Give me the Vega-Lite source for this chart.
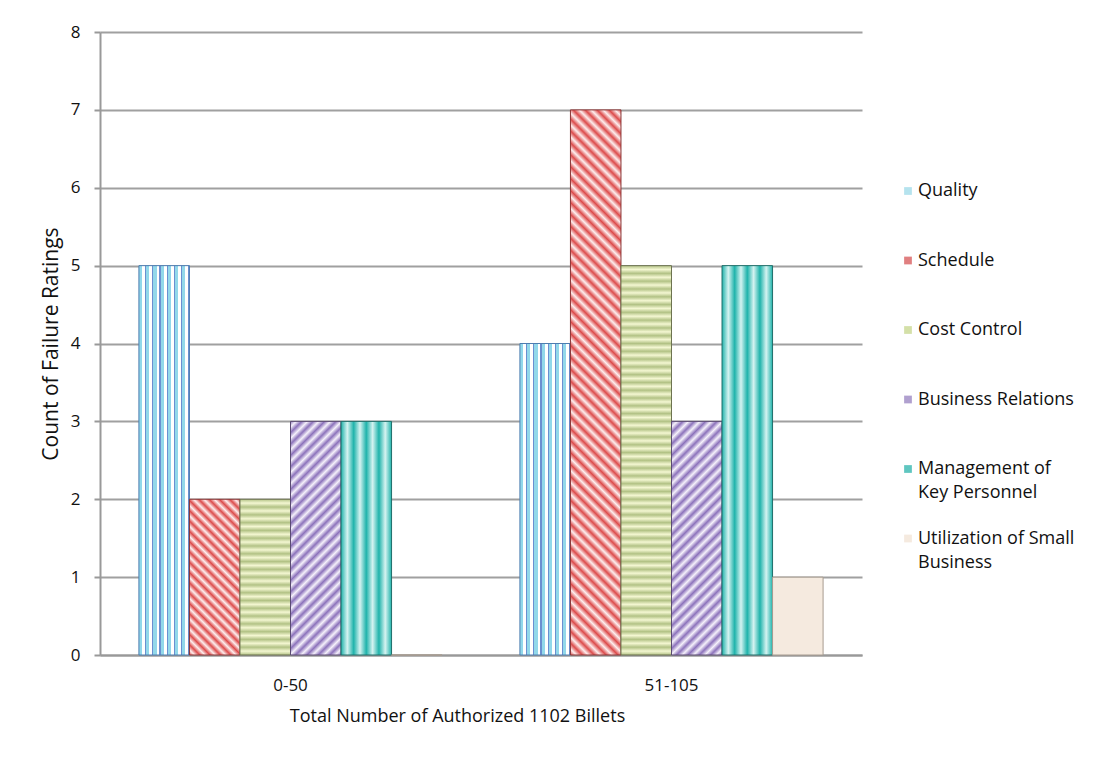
{
  "$schema": "https://vega.github.io/schema/vega-lite/v6.json",
  "autosize": "none",
  "width": 762,
  "height": 623,
  "padding": {"left": 100, "top": 32, "right": 252, "bottom": 127},
  "background": "#ffffff",
  "data": {
    "values": [
      {"Billets": "0-50", "Series": "Quality", "Count": 5},
      {"Billets": "0-50", "Series": "Schedule", "Count": 2},
      {"Billets": "0-50", "Series": "Cost Control", "Count": 2},
      {"Billets": "0-50", "Series": "Business Relations", "Count": 3},
      {"Billets": "0-50", "Series": "Management of Key Personnel", "Count": 3},
      {"Billets": "0-50", "Series": "Utilization of Small Business", "Count": 0},
      {"Billets": "51-105", "Series": "Quality", "Count": 4},
      {"Billets": "51-105", "Series": "Schedule", "Count": 7},
      {"Billets": "51-105", "Series": "Cost Control", "Count": 5},
      {"Billets": "51-105", "Series": "Business Relations", "Count": 3},
      {"Billets": "51-105", "Series": "Management of Key Personnel", "Count": 5},
      {"Billets": "51-105", "Series": "Utilization of Small Business", "Count": 1}
    ]
  },
  "mark": {"type": "bar", "strokeWidth": 1},
  "encoding": {
    "x": {
      "field": "Billets", "type": "nominal",
      "scale": {"paddingInner": 0, "paddingOuter": 0},
      "axis": {"title": "Total Number of Authorized 1102 Billets", "labelAngle": 0, "ticks": false, "tickSize": 0, "labelPadding": 22, "titlePadding": 14, "titleX": 357, "titleAnchor": "middle", "grid": false}
    },
    "xOffset": {
      "field": "Series", "type": "nominal",
      "scale": {"domain": ["Quality", "Schedule", "Cost Control", "Business Relations", "Management of Key Personnel", "Utilization of Small Business"], "paddingInner": 0, "paddingOuter": 0.77}
    },
    "y": {
      "field": "Count", "type": "quantitative",
      "scale": {"domain": [0, 8], "nice": false},
      "axis": {"title": "Count of Failure Ratings", "values": [0, 1, 2, 3, 4, 5, 6, 7, 8], "tickSize": 6, "labelPadding": 14, "titlePadding": 9}
    },
    "stroke": {
      "field": "Series", "type": "nominal", "legend": null,
      "scale": {"domain": ["Quality", "Schedule", "Cost Control", "Business Relations", "Management of Key Personnel", "Utilization of Small Business"],
                "range": ["#4d7db0", "#8a3535", "#6d7350", "#5a4b72", "#1f6f6a", "#a79c90"]}
    },
    "fill": {
      "field": "Series", "type": "nominal",
      "scale": {"domain": ["Quality", "Schedule", "Cost Control", "Business Relations", "Management of Key Personnel", "Utilization of Small Business"],
                "range": ["#b5e3ee", "#e07f80", "#d4e0a8", "#b0a0cf", "#5fc6c0", "#f5eadf"]},
      "legend": {
        "orient": "none", "legendX": 799, "legendY": 150, "direction": "vertical",
        "title": null, "symbolType": "square", "symbolSize": 60, "symbolStrokeWidth": 0,
        "labelFont": "Open Sans", "labelFontSize": 18, "labelColor": "#111111", "labelOffset": 1, "labelLimit": 300,
        "rowPadding": 27.5,
        "labelExpr": "datum.label == 'Management of Key Personnel' ? ['Management of', 'Key Personnel'] : datum.label == 'Utilization of Small Business' ? ['Utilization of Small', 'Business'] : [datum.label, ' ']"
      },
      "condition": [
        {"test": "datum.Series === 'Quality'", "value": {"gradient": "linear", "x1": 0, "y1": 0, "x2": 1, "y2": 0, "stops": [
          {"offset": 0, "color": "#92d8ea"}, {"offset": 0.0643, "color": "#92d8ea"}, {"offset": 0.0643, "color": "#ffffff"}, {"offset": 0.1214, "color": "#ffffff"}, {"offset": 0.1214, "color": "#6b8fd0"}, {"offset": 0.1429, "color": "#6b8fd0"},
          {"offset": 0.1429, "color": "#92d8ea"}, {"offset": 0.2071, "color": "#92d8ea"}, {"offset": 0.2071, "color": "#ffffff"}, {"offset": 0.2643, "color": "#ffffff"}, {"offset": 0.2643, "color": "#6b8fd0"}, {"offset": 0.2857, "color": "#6b8fd0"},
          {"offset": 0.2857, "color": "#92d8ea"}, {"offset": 0.35, "color": "#92d8ea"}, {"offset": 0.35, "color": "#ffffff"}, {"offset": 0.4071, "color": "#ffffff"}, {"offset": 0.4071, "color": "#6b8fd0"}, {"offset": 0.4286, "color": "#6b8fd0"},
          {"offset": 0.4286, "color": "#92d8ea"}, {"offset": 0.4929, "color": "#92d8ea"}, {"offset": 0.4929, "color": "#ffffff"}, {"offset": 0.55, "color": "#ffffff"}, {"offset": 0.55, "color": "#6b8fd0"}, {"offset": 0.5714, "color": "#6b8fd0"},
          {"offset": 0.5714, "color": "#92d8ea"}, {"offset": 0.6357, "color": "#92d8ea"}, {"offset": 0.6357, "color": "#ffffff"}, {"offset": 0.6929, "color": "#ffffff"}, {"offset": 0.6929, "color": "#6b8fd0"}, {"offset": 0.7143, "color": "#6b8fd0"},
          {"offset": 0.7143, "color": "#92d8ea"}, {"offset": 0.7786, "color": "#92d8ea"}, {"offset": 0.7786, "color": "#ffffff"}, {"offset": 0.8357, "color": "#ffffff"}, {"offset": 0.8357, "color": "#6b8fd0"}, {"offset": 0.8571, "color": "#6b8fd0"},
          {"offset": 0.8571, "color": "#92d8ea"}, {"offset": 0.9214, "color": "#92d8ea"}, {"offset": 0.9214, "color": "#ffffff"}, {"offset": 0.9786, "color": "#ffffff"}, {"offset": 0.9786, "color": "#6b8fd0"}, {"offset": 1, "color": "#6b8fd0"}
        ]}},
        {"test": "datum.Series === 'Schedule' && datum.Count > 4", "value": {"gradient": "linear", "x1": 0, "y1": 1, "x2": 0.1004, "y2": -0.0833, "stops": [
          {"offset": 0, "color": "#dc4b4b"}, {"offset": 0.01, "color": "#fdeeee"}, {"offset": 0.02, "color": "#dc4b4b"}, {"offset": 0.03, "color": "#fdeeee"}, {"offset": 0.04, "color": "#dc4b4b"}, {"offset": 0.05, "color": "#fdeeee"}, {"offset": 0.06, "color": "#dc4b4b"}, {"offset": 0.07, "color": "#fdeeee"}, {"offset": 0.08, "color": "#dc4b4b"}, {"offset": 0.09, "color": "#fdeeee"},
          {"offset": 0.1, "color": "#dc4b4b"}, {"offset": 0.11, "color": "#fdeeee"}, {"offset": 0.12, "color": "#dc4b4b"}, {"offset": 0.13, "color": "#fdeeee"}, {"offset": 0.14, "color": "#dc4b4b"}, {"offset": 0.15, "color": "#fdeeee"}, {"offset": 0.16, "color": "#dc4b4b"}, {"offset": 0.17, "color": "#fdeeee"}, {"offset": 0.18, "color": "#dc4b4b"}, {"offset": 0.19, "color": "#fdeeee"},
          {"offset": 0.2, "color": "#dc4b4b"}, {"offset": 0.21, "color": "#fdeeee"}, {"offset": 0.22, "color": "#dc4b4b"}, {"offset": 0.23, "color": "#fdeeee"}, {"offset": 0.24, "color": "#dc4b4b"}, {"offset": 0.25, "color": "#fdeeee"}, {"offset": 0.26, "color": "#dc4b4b"}, {"offset": 0.27, "color": "#fdeeee"}, {"offset": 0.28, "color": "#dc4b4b"}, {"offset": 0.29, "color": "#fdeeee"},
          {"offset": 0.3, "color": "#dc4b4b"}, {"offset": 0.31, "color": "#fdeeee"}, {"offset": 0.32, "color": "#dc4b4b"}, {"offset": 0.33, "color": "#fdeeee"}, {"offset": 0.34, "color": "#dc4b4b"}, {"offset": 0.35, "color": "#fdeeee"}, {"offset": 0.36, "color": "#dc4b4b"}, {"offset": 0.37, "color": "#fdeeee"}, {"offset": 0.38, "color": "#dc4b4b"}, {"offset": 0.39, "color": "#fdeeee"},
          {"offset": 0.4, "color": "#dc4b4b"}, {"offset": 0.41, "color": "#fdeeee"}, {"offset": 0.42, "color": "#dc4b4b"}, {"offset": 0.43, "color": "#fdeeee"}, {"offset": 0.44, "color": "#dc4b4b"}, {"offset": 0.45, "color": "#fdeeee"}, {"offset": 0.46, "color": "#dc4b4b"}, {"offset": 0.47, "color": "#fdeeee"}, {"offset": 0.48, "color": "#dc4b4b"}, {"offset": 0.49, "color": "#fdeeee"},
          {"offset": 0.5, "color": "#dc4b4b"}, {"offset": 0.51, "color": "#fdeeee"}, {"offset": 0.52, "color": "#dc4b4b"}, {"offset": 0.53, "color": "#fdeeee"}, {"offset": 0.54, "color": "#dc4b4b"}, {"offset": 0.55, "color": "#fdeeee"}, {"offset": 0.56, "color": "#dc4b4b"}, {"offset": 0.57, "color": "#fdeeee"}, {"offset": 0.58, "color": "#dc4b4b"}, {"offset": 0.59, "color": "#fdeeee"},
          {"offset": 0.6, "color": "#dc4b4b"}, {"offset": 0.61, "color": "#fdeeee"}, {"offset": 0.62, "color": "#dc4b4b"}, {"offset": 0.63, "color": "#fdeeee"}, {"offset": 0.64, "color": "#dc4b4b"}, {"offset": 0.65, "color": "#fdeeee"}, {"offset": 0.66, "color": "#dc4b4b"}, {"offset": 0.67, "color": "#fdeeee"}, {"offset": 0.68, "color": "#dc4b4b"}, {"offset": 0.69, "color": "#fdeeee"},
          {"offset": 0.7, "color": "#dc4b4b"}, {"offset": 0.71, "color": "#fdeeee"}, {"offset": 0.72, "color": "#dc4b4b"}, {"offset": 0.73, "color": "#fdeeee"}, {"offset": 0.74, "color": "#dc4b4b"}, {"offset": 0.75, "color": "#fdeeee"}, {"offset": 0.76, "color": "#dc4b4b"}, {"offset": 0.77, "color": "#fdeeee"}, {"offset": 0.78, "color": "#dc4b4b"}, {"offset": 0.79, "color": "#fdeeee"},
          {"offset": 0.8, "color": "#dc4b4b"}, {"offset": 0.81, "color": "#fdeeee"}, {"offset": 0.82, "color": "#dc4b4b"}, {"offset": 0.83, "color": "#fdeeee"}, {"offset": 0.84, "color": "#dc4b4b"}, {"offset": 0.85, "color": "#fdeeee"}, {"offset": 0.86, "color": "#dc4b4b"}, {"offset": 0.87, "color": "#fdeeee"}, {"offset": 0.88, "color": "#dc4b4b"}, {"offset": 0.89, "color": "#fdeeee"},
          {"offset": 0.9, "color": "#dc4b4b"}, {"offset": 0.91, "color": "#fdeeee"}, {"offset": 0.92, "color": "#dc4b4b"}, {"offset": 0.93, "color": "#fdeeee"}, {"offset": 0.94, "color": "#dc4b4b"}, {"offset": 0.95, "color": "#fdeeee"}, {"offset": 0.96, "color": "#dc4b4b"}, {"offset": 0.97, "color": "#fdeeee"}, {"offset": 0.98, "color": "#dc4b4b"}, {"offset": 0.99, "color": "#fdeeee"},
          {"offset": 1, "color": "#dc4b4b"}
        ]}},
        {"test": "datum.Series === 'Schedule'", "value": {"gradient": "linear", "x1": 0, "y1": 1, "x2": 0.3885, "y2": -0.1983, "stops": [
          {"offset": 0, "color": "#dc4b4b"}, {"offset": 0.025, "color": "#fdeeee"}, {"offset": 0.05, "color": "#dc4b4b"}, {"offset": 0.075, "color": "#fdeeee"}, {"offset": 0.1, "color": "#dc4b4b"}, {"offset": 0.125, "color": "#fdeeee"}, {"offset": 0.15, "color": "#dc4b4b"}, {"offset": 0.175, "color": "#fdeeee"},
          {"offset": 0.2, "color": "#dc4b4b"}, {"offset": 0.225, "color": "#fdeeee"}, {"offset": 0.25, "color": "#dc4b4b"}, {"offset": 0.275, "color": "#fdeeee"}, {"offset": 0.3, "color": "#dc4b4b"}, {"offset": 0.325, "color": "#fdeeee"}, {"offset": 0.35, "color": "#dc4b4b"}, {"offset": 0.375, "color": "#fdeeee"},
          {"offset": 0.4, "color": "#dc4b4b"}, {"offset": 0.425, "color": "#fdeeee"}, {"offset": 0.45, "color": "#dc4b4b"}, {"offset": 0.475, "color": "#fdeeee"}, {"offset": 0.5, "color": "#dc4b4b"}, {"offset": 0.525, "color": "#fdeeee"}, {"offset": 0.55, "color": "#dc4b4b"}, {"offset": 0.575, "color": "#fdeeee"},
          {"offset": 0.6, "color": "#dc4b4b"}, {"offset": 0.625, "color": "#fdeeee"}, {"offset": 0.65, "color": "#dc4b4b"}, {"offset": 0.675, "color": "#fdeeee"}, {"offset": 0.7, "color": "#dc4b4b"}, {"offset": 0.725, "color": "#fdeeee"}, {"offset": 0.75, "color": "#dc4b4b"}, {"offset": 0.775, "color": "#fdeeee"},
          {"offset": 0.8, "color": "#dc4b4b"}, {"offset": 0.825, "color": "#fdeeee"}, {"offset": 0.85, "color": "#dc4b4b"}, {"offset": 0.875, "color": "#fdeeee"}, {"offset": 0.9, "color": "#dc4b4b"}, {"offset": 0.925, "color": "#fdeeee"}, {"offset": 0.95, "color": "#dc4b4b"}, {"offset": 0.975, "color": "#fdeeee"},
          {"offset": 1, "color": "#dc4b4b"}
        ]}},
        {"test": "datum.Series === 'Cost Control' && datum.Count > 3", "value": {"gradient": "linear", "x1": 0, "y1": 0, "x2": 0, "y2": 1, "stops": [
          {"offset": 0, "color": "#b2c285"}, {"offset": 0.01, "color": "#f4f7d2"}, {"offset": 0.02, "color": "#b2c285"}, {"offset": 0.03, "color": "#f4f7d2"}, {"offset": 0.04, "color": "#b2c285"}, {"offset": 0.05, "color": "#f4f7d2"}, {"offset": 0.06, "color": "#b2c285"}, {"offset": 0.07, "color": "#f4f7d2"}, {"offset": 0.08, "color": "#b2c285"}, {"offset": 0.09, "color": "#f4f7d2"},
          {"offset": 0.1, "color": "#b2c285"}, {"offset": 0.11, "color": "#f4f7d2"}, {"offset": 0.12, "color": "#b2c285"}, {"offset": 0.13, "color": "#f4f7d2"}, {"offset": 0.14, "color": "#b2c285"}, {"offset": 0.15, "color": "#f4f7d2"}, {"offset": 0.16, "color": "#b2c285"}, {"offset": 0.17, "color": "#f4f7d2"}, {"offset": 0.18, "color": "#b2c285"}, {"offset": 0.19, "color": "#f4f7d2"},
          {"offset": 0.2, "color": "#b2c285"}, {"offset": 0.21, "color": "#f4f7d2"}, {"offset": 0.22, "color": "#b2c285"}, {"offset": 0.23, "color": "#f4f7d2"}, {"offset": 0.24, "color": "#b2c285"}, {"offset": 0.25, "color": "#f4f7d2"}, {"offset": 0.26, "color": "#b2c285"}, {"offset": 0.27, "color": "#f4f7d2"}, {"offset": 0.28, "color": "#b2c285"}, {"offset": 0.29, "color": "#f4f7d2"},
          {"offset": 0.3, "color": "#b2c285"}, {"offset": 0.31, "color": "#f4f7d2"}, {"offset": 0.32, "color": "#b2c285"}, {"offset": 0.33, "color": "#f4f7d2"}, {"offset": 0.34, "color": "#b2c285"}, {"offset": 0.35, "color": "#f4f7d2"}, {"offset": 0.36, "color": "#b2c285"}, {"offset": 0.37, "color": "#f4f7d2"}, {"offset": 0.38, "color": "#b2c285"}, {"offset": 0.39, "color": "#f4f7d2"},
          {"offset": 0.4, "color": "#b2c285"}, {"offset": 0.41, "color": "#f4f7d2"}, {"offset": 0.42, "color": "#b2c285"}, {"offset": 0.43, "color": "#f4f7d2"}, {"offset": 0.44, "color": "#b2c285"}, {"offset": 0.45, "color": "#f4f7d2"}, {"offset": 0.46, "color": "#b2c285"}, {"offset": 0.47, "color": "#f4f7d2"}, {"offset": 0.48, "color": "#b2c285"}, {"offset": 0.49, "color": "#f4f7d2"},
          {"offset": 0.5, "color": "#b2c285"}, {"offset": 0.51, "color": "#f4f7d2"}, {"offset": 0.52, "color": "#b2c285"}, {"offset": 0.53, "color": "#f4f7d2"}, {"offset": 0.54, "color": "#b2c285"}, {"offset": 0.55, "color": "#f4f7d2"}, {"offset": 0.56, "color": "#b2c285"}, {"offset": 0.57, "color": "#f4f7d2"}, {"offset": 0.58, "color": "#b2c285"}, {"offset": 0.59, "color": "#f4f7d2"},
          {"offset": 0.6, "color": "#b2c285"}, {"offset": 0.61, "color": "#f4f7d2"}, {"offset": 0.62, "color": "#b2c285"}, {"offset": 0.63, "color": "#f4f7d2"}, {"offset": 0.64, "color": "#b2c285"}, {"offset": 0.65, "color": "#f4f7d2"}, {"offset": 0.66, "color": "#b2c285"}, {"offset": 0.67, "color": "#f4f7d2"}, {"offset": 0.68, "color": "#b2c285"}, {"offset": 0.69, "color": "#f4f7d2"},
          {"offset": 0.7, "color": "#b2c285"}, {"offset": 0.71, "color": "#f4f7d2"}, {"offset": 0.72, "color": "#b2c285"}, {"offset": 0.73, "color": "#f4f7d2"}, {"offset": 0.74, "color": "#b2c285"}, {"offset": 0.75, "color": "#f4f7d2"}, {"offset": 0.76, "color": "#b2c285"}, {"offset": 0.77, "color": "#f4f7d2"}, {"offset": 0.78, "color": "#b2c285"}, {"offset": 0.79, "color": "#f4f7d2"},
          {"offset": 0.8, "color": "#b2c285"}, {"offset": 0.81, "color": "#f4f7d2"}, {"offset": 0.82, "color": "#b2c285"}, {"offset": 0.83, "color": "#f4f7d2"}, {"offset": 0.84, "color": "#b2c285"}, {"offset": 0.85, "color": "#f4f7d2"}, {"offset": 0.86, "color": "#b2c285"}, {"offset": 0.87, "color": "#f4f7d2"}, {"offset": 0.88, "color": "#b2c285"}, {"offset": 0.89, "color": "#f4f7d2"},
          {"offset": 0.9, "color": "#b2c285"}, {"offset": 0.91, "color": "#f4f7d2"}, {"offset": 0.92, "color": "#b2c285"}, {"offset": 0.93, "color": "#f4f7d2"}, {"offset": 0.94, "color": "#b2c285"}, {"offset": 0.95, "color": "#f4f7d2"}, {"offset": 0.96, "color": "#b2c285"}, {"offset": 0.97, "color": "#f4f7d2"}, {"offset": 0.98, "color": "#b2c285"}, {"offset": 0.99, "color": "#f4f7d2"},
          {"offset": 1, "color": "#b2c285"}
        ]}},
        {"test": "datum.Series === 'Cost Control'", "value": {"gradient": "linear", "x1": 0, "y1": 0, "x2": 0, "y2": 1, "stops": [
          {"offset": 0, "color": "#b2c285"}, {"offset": 0.025, "color": "#f4f7d2"}, {"offset": 0.05, "color": "#b2c285"}, {"offset": 0.075, "color": "#f4f7d2"}, {"offset": 0.1, "color": "#b2c285"}, {"offset": 0.125, "color": "#f4f7d2"}, {"offset": 0.15, "color": "#b2c285"}, {"offset": 0.175, "color": "#f4f7d2"},
          {"offset": 0.2, "color": "#b2c285"}, {"offset": 0.225, "color": "#f4f7d2"}, {"offset": 0.25, "color": "#b2c285"}, {"offset": 0.275, "color": "#f4f7d2"}, {"offset": 0.3, "color": "#b2c285"}, {"offset": 0.325, "color": "#f4f7d2"}, {"offset": 0.35, "color": "#b2c285"}, {"offset": 0.375, "color": "#f4f7d2"},
          {"offset": 0.4, "color": "#b2c285"}, {"offset": 0.425, "color": "#f4f7d2"}, {"offset": 0.45, "color": "#b2c285"}, {"offset": 0.475, "color": "#f4f7d2"}, {"offset": 0.5, "color": "#b2c285"}, {"offset": 0.525, "color": "#f4f7d2"}, {"offset": 0.55, "color": "#b2c285"}, {"offset": 0.575, "color": "#f4f7d2"},
          {"offset": 0.6, "color": "#b2c285"}, {"offset": 0.625, "color": "#f4f7d2"}, {"offset": 0.65, "color": "#b2c285"}, {"offset": 0.675, "color": "#f4f7d2"}, {"offset": 0.7, "color": "#b2c285"}, {"offset": 0.725, "color": "#f4f7d2"}, {"offset": 0.75, "color": "#b2c285"}, {"offset": 0.775, "color": "#f4f7d2"},
          {"offset": 0.8, "color": "#b2c285"}, {"offset": 0.825, "color": "#f4f7d2"}, {"offset": 0.85, "color": "#b2c285"}, {"offset": 0.875, "color": "#f4f7d2"}, {"offset": 0.9, "color": "#b2c285"}, {"offset": 0.925, "color": "#f4f7d2"}, {"offset": 0.95, "color": "#b2c285"}, {"offset": 0.975, "color": "#f4f7d2"},
          {"offset": 1, "color": "#b2c285"}
        ]}},
        {"test": "datum.Series === 'Business Relations'", "value": {"gradient": "linear", "x1": 0, "y1": 0, "x2": 0.2512, "y2": 1.1619, "stops": [
          {"offset": 0, "color": "#8c72bb"}, {"offset": 0.02, "color": "#f5f1fb"}, {"offset": 0.04, "color": "#8c72bb"}, {"offset": 0.06, "color": "#f5f1fb"}, {"offset": 0.08, "color": "#8c72bb"}, {"offset": 0.1, "color": "#f5f1fb"}, {"offset": 0.12, "color": "#8c72bb"}, {"offset": 0.14, "color": "#f5f1fb"}, {"offset": 0.16, "color": "#8c72bb"}, {"offset": 0.18, "color": "#f5f1fb"},
          {"offset": 0.2, "color": "#8c72bb"}, {"offset": 0.22, "color": "#f5f1fb"}, {"offset": 0.24, "color": "#8c72bb"}, {"offset": 0.26, "color": "#f5f1fb"}, {"offset": 0.28, "color": "#8c72bb"}, {"offset": 0.3, "color": "#f5f1fb"}, {"offset": 0.32, "color": "#8c72bb"}, {"offset": 0.34, "color": "#f5f1fb"}, {"offset": 0.36, "color": "#8c72bb"}, {"offset": 0.38, "color": "#f5f1fb"},
          {"offset": 0.4, "color": "#8c72bb"}, {"offset": 0.42, "color": "#f5f1fb"}, {"offset": 0.44, "color": "#8c72bb"}, {"offset": 0.46, "color": "#f5f1fb"}, {"offset": 0.48, "color": "#8c72bb"}, {"offset": 0.5, "color": "#f5f1fb"}, {"offset": 0.52, "color": "#8c72bb"}, {"offset": 0.54, "color": "#f5f1fb"}, {"offset": 0.56, "color": "#8c72bb"}, {"offset": 0.58, "color": "#f5f1fb"},
          {"offset": 0.6, "color": "#8c72bb"}, {"offset": 0.62, "color": "#f5f1fb"}, {"offset": 0.64, "color": "#8c72bb"}, {"offset": 0.66, "color": "#f5f1fb"}, {"offset": 0.68, "color": "#8c72bb"}, {"offset": 0.7, "color": "#f5f1fb"}, {"offset": 0.72, "color": "#8c72bb"}, {"offset": 0.74, "color": "#f5f1fb"}, {"offset": 0.76, "color": "#8c72bb"}, {"offset": 0.78, "color": "#f5f1fb"},
          {"offset": 0.8, "color": "#8c72bb"}, {"offset": 0.82, "color": "#f5f1fb"}, {"offset": 0.84, "color": "#8c72bb"}, {"offset": 0.86, "color": "#f5f1fb"}, {"offset": 0.88, "color": "#8c72bb"}, {"offset": 0.9, "color": "#f5f1fb"}, {"offset": 0.92, "color": "#8c72bb"}, {"offset": 0.94, "color": "#f5f1fb"}, {"offset": 0.96, "color": "#8c72bb"}, {"offset": 0.98, "color": "#f5f1fb"},
          {"offset": 1, "color": "#8c72bb"}
        ]}},
        {"test": "datum.Series === 'Management of Key Personnel'", "value": {"gradient": "linear", "x1": 0, "y1": 0, "x2": 1, "y2": 0, "stops": [
          {"offset": 0, "color": "#1fb3ab"}, {"offset": 0.125, "color": "#d5f3f1"}, {"offset": 0.25, "color": "#1fb3ab"}, {"offset": 0.375, "color": "#d5f3f1"}, {"offset": 0.5, "color": "#1fb3ab"}, {"offset": 0.625, "color": "#d5f3f1"}, {"offset": 0.75, "color": "#1fb3ab"}, {"offset": 0.875, "color": "#d5f3f1"}, {"offset": 1, "color": "#1fb3ab"}
        ]}}
      ]
    }
  },
  "config": {
    "view": {"stroke": null},
    "style": {"guide-label": {"lineHeight": 24}},
    "axis": {
      "labelFont": "Open Sans", "labelFontSize": 17, "labelColor": "#111111",
      "titleFont": "Open Sans", "titleFontSize": 18, "titleFontWeight": "normal", "titleColor": "#111111",
      "domainColor": "#999999", "domainWidth": 2, "tickColor": "#999999", "tickWidth": 2,
      "gridColor": "#a0a0a0", "gridWidth": 2
    },
    "axisY": {"titleFontSize": 21}
  }
}
